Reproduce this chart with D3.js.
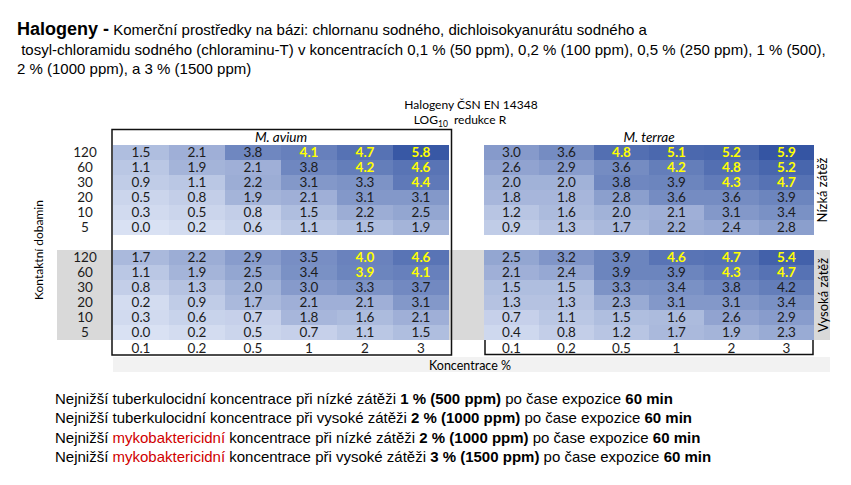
<!DOCTYPE html>
<html>
<head>
<meta charset="utf-8">
<script src="https://cdn.jsdelivr.net/npm/d3@7"></script>
<style>
  body { margin: 0; background: #fff; }
  svg { display: block; }
  .intro { font-family: "Liberation Sans", Arial, sans-serif; }
  .tab { font-family: Lato, "Open Sans", sans-serif; }
</style>
</head>
<body>
<script>
let width = 851
let height = 485

// concentrations (%) and contact times (min)
let concentrations = ["0.1", "0.2", "0.5", "1", "2", "3"]
let times = [120, 60, 30, 20, 10, 5]

// LOG10 reduction, rows = times, cols = concentrations
let aviumLow = [
  [1.5, 2.1, 3.8, 4.1, 4.7, 5.8],
  [1.1, 1.9, 2.1, 3.8, 4.2, 4.6],
  [0.9, 1.1, 2.2, 3.1, 3.3, 4.4],
  [0.5, 0.8, 1.9, 2.1, 3.1, 3.1],
  [0.3, 0.5, 0.8, 1.5, 2.2, 2.5],
  [0.0, 0.2, 0.6, 1.1, 1.5, 1.9]
]
let aviumHigh = [
  [1.7, 2.2, 2.9, 3.5, 4.0, 4.6],
  [1.1, 1.9, 2.5, 3.4, 3.9, 4.1],
  [0.8, 1.3, 2.0, 3.0, 3.3, 3.7],
  [0.2, 0.9, 1.7, 2.1, 2.1, 3.1],
  [0.3, 0.6, 0.7, 1.8, 1.6, 2.1],
  [0.0, 0.2, 0.5, 0.7, 1.1, 1.5]
]
let terraeLow = [
  [3.0, 3.6, 4.8, 5.1, 5.2, 5.9],
  [2.6, 2.9, 3.6, 4.2, 4.8, 5.2],
  [2.0, 2.0, 3.8, 3.9, 4.3, 4.7],
  [1.8, 1.8, 2.8, 3.6, 3.6, 3.9],
  [1.2, 1.6, 2.0, 2.1, 3.1, 3.4],
  [0.9, 1.3, 1.7, 2.2, 2.4, 2.8]
]
let terraeHigh = [
  [2.5, 3.2, 3.9, 4.6, 4.7, 5.4],
  [2.1, 2.4, 3.9, 3.9, 4.3, 4.7],
  [1.5, 1.5, 3.3, 3.4, 3.8, 4.2],
  [1.3, 1.3, 2.3, 3.1, 3.1, 3.4],
  [0.7, 1.1, 1.5, 1.6, 2.6, 2.9],
  [0.4, 0.8, 1.2, 1.7, 1.9, 2.3]
]

// cells highlighted in yellow
let aviumLowHl = [
  [0, 0, 0, 1, 1, 1], [0, 0, 0, 0, 1, 1], [0, 0, 0, 0, 0, 1],
  [0, 0, 0, 0, 0, 0], [0, 0, 0, 0, 0, 0], [0, 0, 0, 0, 0, 0]
]
let aviumHighHl = [
  [0, 0, 0, 0, 1, 1], [0, 0, 0, 0, 1, 1], [0, 0, 0, 0, 0, 0],
  [0, 0, 0, 0, 0, 0], [0, 0, 0, 0, 0, 0], [0, 0, 0, 0, 0, 0]
]
let terraeLowHl = [
  [0, 0, 1, 1, 1, 1], [0, 0, 0, 1, 1, 1], [0, 0, 0, 0, 1, 1],
  [0, 0, 0, 0, 0, 0], [0, 0, 0, 0, 0, 0], [0, 0, 0, 0, 0, 0]
]
let terraeHighHl = [
  [0, 0, 0, 1, 1, 1], [0, 0, 0, 0, 1, 1], [0, 0, 0, 0, 0, 0],
  [0, 0, 0, 0, 0, 0], [0, 0, 0, 0, 0, 0], [0, 0, 0, 0, 0, 0]
]

let titleLines = [
  [{t: "Halogeny -", b: 1, big: 1}, {t: " Komerční prostředky na bázi: chlornanu sodného, dichloisokyanurátu sodného a"}],
  [{t: " tosyl-chloramidu sodného (chloraminu-T) v koncentracích 0,1 % (50 ppm), 0,2 % (100 ppm), 0,5 % (250 ppm), 1 % (500),"}],
  [{t: "2 % (1000 ppm), a 3 % (1500 ppm)"}]
]

let noteLines = [
  [{t: "Nejnižší tuberkulocidní koncentrace při nízké zátěži "}, {t: "1 % (500 ppm)", b: 1}, {t: " po čase expozice "}, {t: "60 min", b: 1}],
  [{t: "Nejnižší tuberkulocidní koncentrace při vysoké zátěži "}, {t: "2 % (1000 ppm)", b: 1}, {t: " po čase expozice "}, {t: "60 min", b: 1}],
  [{t: "Nejnižší "}, {t: "mykobaktericidní", red: 1}, {t: " koncentrace při nízké zátěži "}, {t: "2 % (1000 ppm)", b: 1}, {t: " po čase expozice "}, {t: "60 min", b: 1}],
  [{t: "Nejnižší "}, {t: "mykobaktericidní", red: 1}, {t: " koncentrace při vysoké zátěži "}, {t: "3 % (1500 ppm)", b: 1}, {t: " po čase expozice "}, {t: "60 min", b: 1}]
]

let svg = d3.select('body').append('svg')
    .attr('width', width)
    .attr('height', height)

// scales
let xLeft = d3.scaleBand().domain(concentrations).range([113, 449])
let xRight = d3.scaleBand().domain(concentrations).range([484, 814])
let yTop = d3.scaleBand().domain(times).range([145, 235])
let yBottom = d3.scaleBand().domain(times).range([250, 340])
let color = d3.scaleLinear().domain([0, 6]).range(["#d9e1f3", "#3253a2"])

// title
let title = svg.append('text').attr('class', 'intro').attr('fill', '#000').style('white-space', 'pre')
titleLines.forEach((line, i) => {
  line.forEach((s, j) => {
    let sp = title.append('tspan')
    if (j == 0) sp.attr('x', 17).attr('y', 35 + i * 19.5)
    sp.text(s.t)
      .attr('font-size', s.big ? 18 : 15)
      .attr('font-weight', s.b ? 'bold' : null)
  })
})

// grey band behind high-load rows
svg.append('rect')
  .attr('x', 57).attr('y', yBottom.range()[0])
  .attr('width', 830 - 57).attr('height', yBottom.range()[1] - yBottom.range()[0])
  .attr('fill', '#d9d9d9')

// light band under the axis title
svg.append('rect')
  .attr('x', 113).attr('y', 357).attr('width', 830 - 113).attr('height', 15)
  .attr('fill', '#f2f2f2')

let tab = svg.append('g').attr('class', 'tab')

function drawPanel(values, hl, x, y) {
  let cells = []
  values.forEach((row, r) => row.forEach((v, c) => {
    cells.push({v: v, hl: hl[r][c], t: times[r], k: concentrations[c]})
  }))
  let g = tab.append('g')
  g.selectAll('rect').data(cells).enter().append('rect')
    .attr('x', d => x(d.k))
    .attr('y', d => y(d.t))
    .attr('width', x.bandwidth())
    .attr('height', y.bandwidth())
    .attr('fill', d => color(d.v))
  g.selectAll('text').data(cells).enter().append('text')
    .attr('x', d => x(d.k) + x.bandwidth() / 2)
    .attr('y', d => y(d.t) + y.bandwidth() / 2)
    .attr('dy', '0.36em')
    .attr('text-anchor', 'middle')
    .attr('font-size', 13.5)
    .attr('font-weight', d => d.hl ? 'bold' : null)
    .attr('fill', d => d.hl ? '#ffff00' : '#1c1c1c')
    .text(d => d.v.toFixed(1))
}

drawPanel(aviumLow, aviumLowHl, xLeft, yTop)
drawPanel(aviumHigh, aviumHighHl, xLeft, yBottom)
drawPanel(terraeLow, terraeLowHl, xRight, yTop)
drawPanel(terraeHigh, terraeHighHl, xRight, yBottom)

// row labels (contact time)
;[yTop, yBottom].forEach(y => {
  tab.append('g').selectAll('text').data(times).enter().append('text')
    .attr('x', 85)
    .attr('y', d => y(d) + y.bandwidth() / 2)
    .attr('dy', '0.36em')
    .attr('text-anchor', 'middle')
    .attr('font-size', 13.5)
    .attr('fill', '#1c1c1c')
    .text(d => d)
})

// concentration tick labels
;[xLeft, xRight].forEach(x => {
  tab.append('g').selectAll('text').data(concentrations).enter().append('text')
    .attr('x', d => x(d) + x.bandwidth() / 2)
    .attr('y', 348)
    .attr('dy', '0.36em')
    .attr('text-anchor', 'middle')
    .attr('font-size', 13.5)
    .attr('fill', '#1c1c1c')
    .text(d => d)
})

// frames
tab.append('rect')
  .attr('x', 112).attr('y', 129.5).attr('width', 451.5 - 112).attr('height', 355 - 129.5)
  .attr('fill', 'none').attr('stroke', '#111').attr('stroke-width', 1.5)
tab.append('path')
  .attr('d', 'M485,340V354.5H813V340')
  .attr('fill', 'none').attr('stroke', '#111').attr('stroke-width', 1.5)

// panel headers
tab.append('text')
  .attr('x', (xLeft.range()[0] + xLeft.range()[1]) / 2).attr('y', 137).attr('dy', '0.36em')
  .attr('text-anchor', 'middle').attr('font-size', 13.5).attr('font-style', 'italic')
  .text('M. avium')
tab.append('text')
  .attr('x', (xRight.range()[0] + xRight.range()[1]) / 2).attr('y', 137).attr('dy', '0.36em')
  .attr('text-anchor', 'middle').attr('font-size', 13.5).attr('font-style', 'italic')
  .text('M. terrae')

// chart heading
tab.append('text')
  .attr('x', 471).attr('y', 109).attr('text-anchor', 'middle').attr('font-size', 12)
  .text('Halogeny ČSN EN 14348')
let logT = tab.append('text')
  .attr('x', 460).attr('y', 124).attr('text-anchor', 'middle').attr('font-size', 12)
logT.append('tspan').text('LOG')
logT.append('tspan').attr('font-size', 8.5).attr('dy', 3).text('10')
logT.append('tspan').attr('dy', -3).style('white-space', 'pre').text('  redukce R')

// axis titles
tab.append('text')
  .attr('transform', 'translate(43,250) rotate(-90)')
  .attr('text-anchor', 'middle').attr('font-size', 12)
  .text('Kontaktní dobamin')
tab.append('text')
  .attr('x', 470).attr('y', 365).attr('dy', '0.36em')
  .attr('text-anchor', 'middle').attr('font-size', 12.5)
  .text('Koncentrace %')
tab.append('text')
  .attr('transform', 'translate(822,' + ((yTop.range()[0] + yTop.range()[1]) / 2) + ') rotate(-90)')
  .attr('dy', '0.36em')
  .attr('text-anchor', 'middle').attr('font-size', 13)
  .text('Nízká zátěž')
tab.append('text')
  .attr('transform', 'translate(823,' + ((yBottom.range()[0] + yBottom.range()[1]) / 2) + ') rotate(-90)')
  .attr('dy', '0.36em')
  .attr('text-anchor', 'middle').attr('font-size', 13)
  .text('Vysoká zátěž')

// conclusions
let notes = svg.append('text').attr('class', 'intro').attr('font-size', 15).style('white-space', 'pre')
noteLines.forEach((line, i) => {
  line.forEach((s, j) => {
    let sp = notes.append('tspan')
    if (j == 0) sp.attr('x', 55).attr('y', 404 + i * 19.3)
    sp.text(s.t)
      .attr('font-weight', s.b ? 'bold' : null)
      .attr('fill', s.red ? '#d00000' : '#000')
  })
})
</script>
</body>
</html>
